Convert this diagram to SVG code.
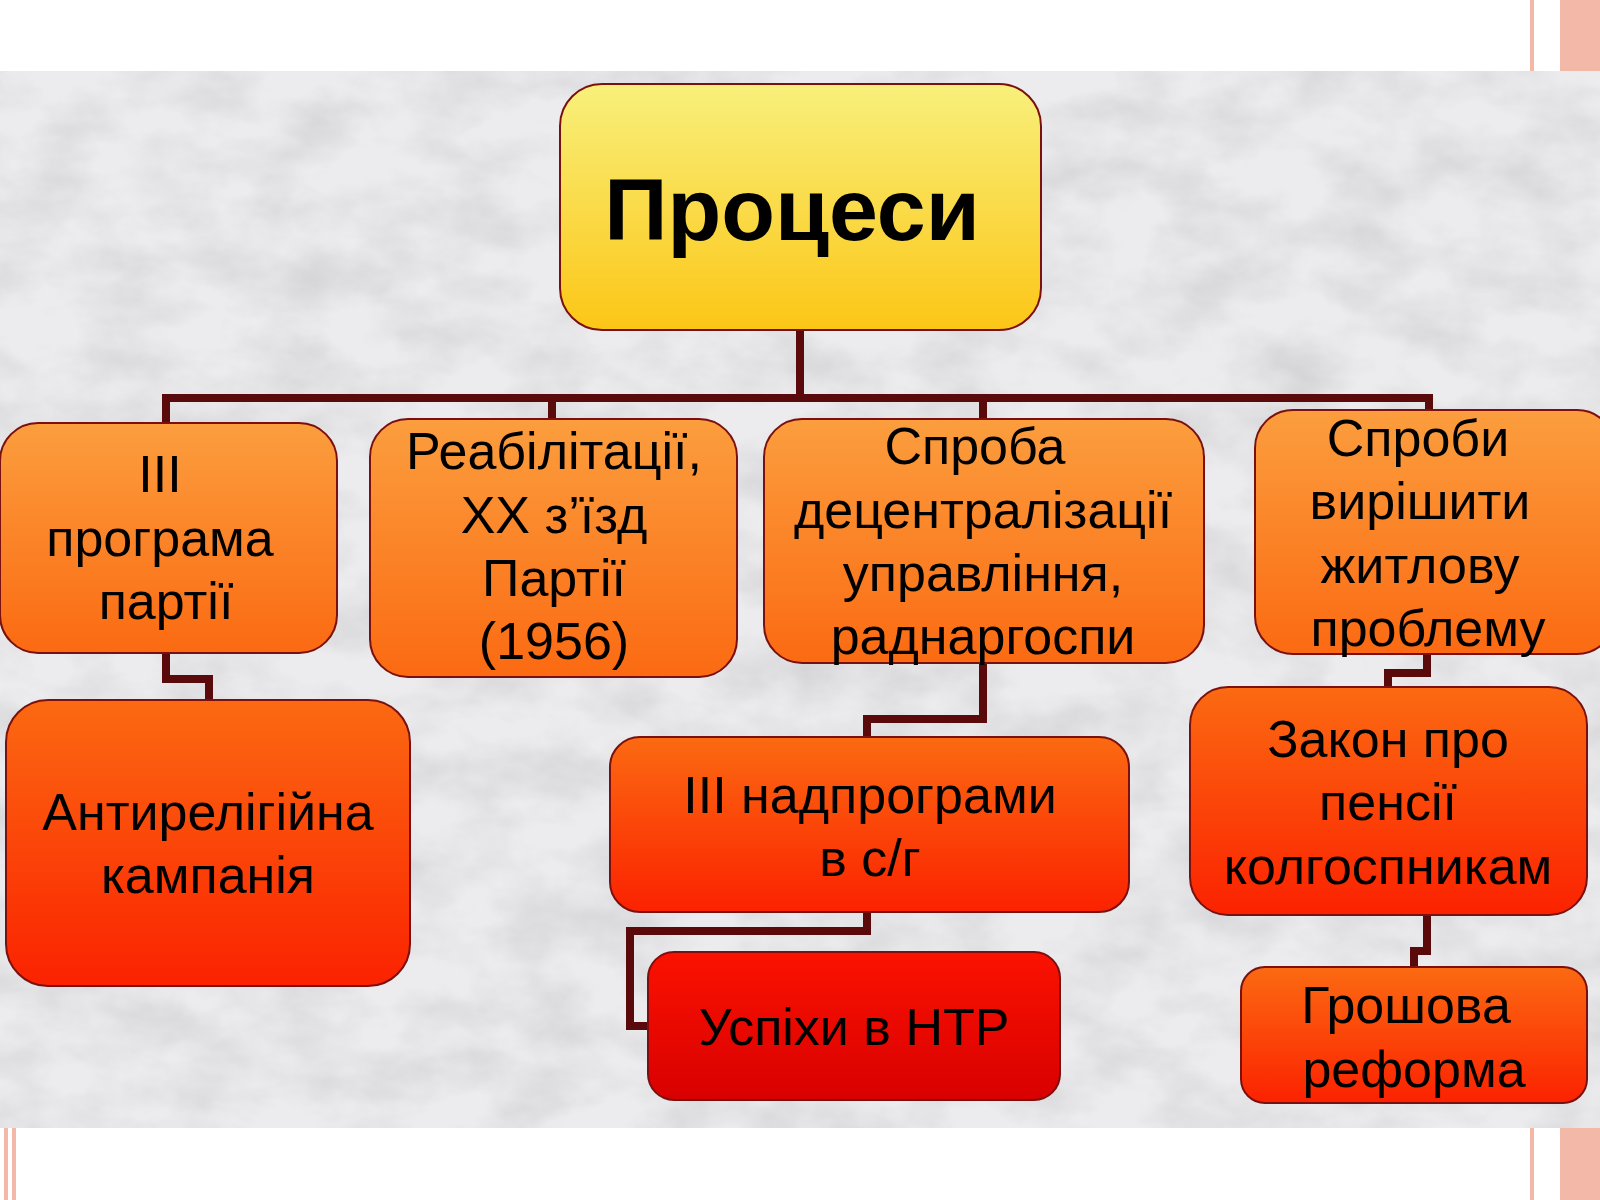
<svg xmlns="http://www.w3.org/2000/svg" width="1600" height="1200" viewBox="0 0 1600 1200">
<defs>
<linearGradient id="gy" x1="0" y1="0" x2="0" y2="1"><stop offset="0" stop-color="#f8f07c"/><stop offset="1" stop-color="#fcc616"/></linearGradient>
<linearGradient id="go" x1="0" y1="0" x2="0" y2="1"><stop offset="0" stop-color="#fb9e3e"/><stop offset="1" stop-color="#fb6a12"/></linearGradient>
<linearGradient id="gr" x1="0" y1="0" x2="0" y2="1"><stop offset="0" stop-color="#fb6a12"/><stop offset="1" stop-color="#fb2200"/></linearGradient>
<linearGradient id="gd" x1="0" y1="0" x2="0" y2="1"><stop offset="0" stop-color="#fb1200"/><stop offset="1" stop-color="#d80000"/></linearGradient>
<filter id="marble" x="0" y="0" width="1" height="1">
<feTurbulence type="fractalNoise" baseFrequency="0.012 0.02" numOctaves="4" seed="3"/>
<feColorMatrix type="matrix" values="0 0 0 0 0.55  0 0 0 0 0.55  0 0 0 0 0.57  -1.6 0 0 0 1.05"/>
</filter>
<style>
.n{stroke:#7a1010;stroke-width:2}
.t{font-family:"Liberation Sans",Arial,sans-serif;font-size:52px;fill:#000;text-anchor:middle}
.c{fill:none;stroke:#5a0a0a;stroke-width:8}
</style>
</defs>
<rect width="1600" height="1200" fill="#fff"/>
<rect x="0" y="71" width="1600" height="1057" fill="#ececee"/>
<rect x="0" y="71" width="1600" height="1057" filter="url(#marble)" opacity="0.6"/>
<g fill="#f4b8a8">
<rect x="1530" y="0" width="4" height="71"/><rect x="1560" y="0" width="40" height="71"/>
<rect x="1530" y="1128" width="4" height="72"/><rect x="1560" y="1128" width="40" height="72"/>
<rect x="4" y="1128" width="4" height="72"/><rect x="12" y="1128" width="4" height="72"/>
</g>
<g id="connectors" class="c">
<polyline points="800,330 800,398"/>
<polyline points="166,423 166,398 1429,398 1429,410"/>
<polyline points="552,398 552,419"/>
<polyline points="983,398 983,419"/>
<polyline points="166,653 166,679 209,679 209,700"/>
<polyline points="983,663 983,719 867,719 867,737"/>
<polyline points="867,912 867,931 630,931 630,1026 648,1026"/>
<polyline points="1427,654 1427,673 1388,673 1388,687"/>
<polyline points="1427,915 1427,951 1414,951 1414,967"/>
</g>
<g id="n0"><rect class="n" x="560" y="84" width="481" height="246" rx="42" fill="url(#gy)"/><text class="t" x="792" y="240" style="font-size:88px;font-weight:bold">Процеси</text></g>
<g id="n1"><rect class="n" x="0" y="423" width="337" height="230" rx="38" fill="url(#go)"/><text class="t"><tspan x="160" y="492">ІІІ</tspan><tspan x="160" y="556">програма</tspan><tspan x="166" y="619">партії</tspan></text></g>
<g id="n2"><rect class="n" x="370" y="419" width="367" height="258" rx="38" fill="url(#go)"/><text class="t"><tspan x="554" y="469">Реабілітації,</tspan><tspan x="554" y="533">ХХ з’їзд</tspan><tspan x="554" y="596">Партії</tspan><tspan x="554" y="659">(1956)</tspan></text></g>
<g id="n3"><rect class="n" x="764" y="419" width="440" height="244" rx="38" fill="url(#go)"/><text class="t"><tspan x="975" y="464">Спроба</tspan><tspan x="983" y="528">децентралізації</tspan><tspan x="983" y="591">управління,</tspan><tspan x="983" y="654">раднаргоспи</tspan></text></g>
<g id="n4"><rect class="n" x="1255" y="410" width="360" height="244" rx="38" fill="url(#go)"/><text class="t"><tspan x="1418" y="456">Спроби</tspan><tspan x="1420" y="519">вирішити</tspan><tspan x="1420" y="583">житлову</tspan><tspan x="1428" y="646">проблему</tspan></text></g>
<g id="n5"><rect class="n" x="6" y="700" width="404" height="286" rx="42" fill="url(#gr)"/><text class="t"><tspan x="208" y="830">Антирелігійна</tspan><tspan x="208" y="893">кампанія</tspan></text></g>
<g id="n6"><rect class="n" x="610" y="737" width="519" height="175" rx="30" fill="url(#gr)"/><text class="t"><tspan x="870" y="813">ІІІ надпрограми</tspan><tspan x="870" y="876">в с/г</tspan></text></g>
<g id="n7"><rect class="n" x="648" y="952" width="412" height="148" rx="26" fill="url(#gd)"/><text class="t" x="854" y="1045">Успіхи в НТР</text></g>
<g id="n8"><rect class="n" x="1190" y="687" width="397" height="228" rx="38" fill="url(#gr)"/><text class="t"><tspan x="1388" y="757">Закон про</tspan><tspan x="1388" y="820">пенсії</tspan><tspan x="1388" y="884">колгоспникам</tspan></text></g>
<g id="n9"><rect class="n" x="1241" y="967" width="346" height="136" rx="24" fill="url(#gr)"/><text class="t"><tspan x="1406" y="1023">Грошова</tspan><tspan x="1414" y="1087">реформа</tspan></text></g>
</svg>
